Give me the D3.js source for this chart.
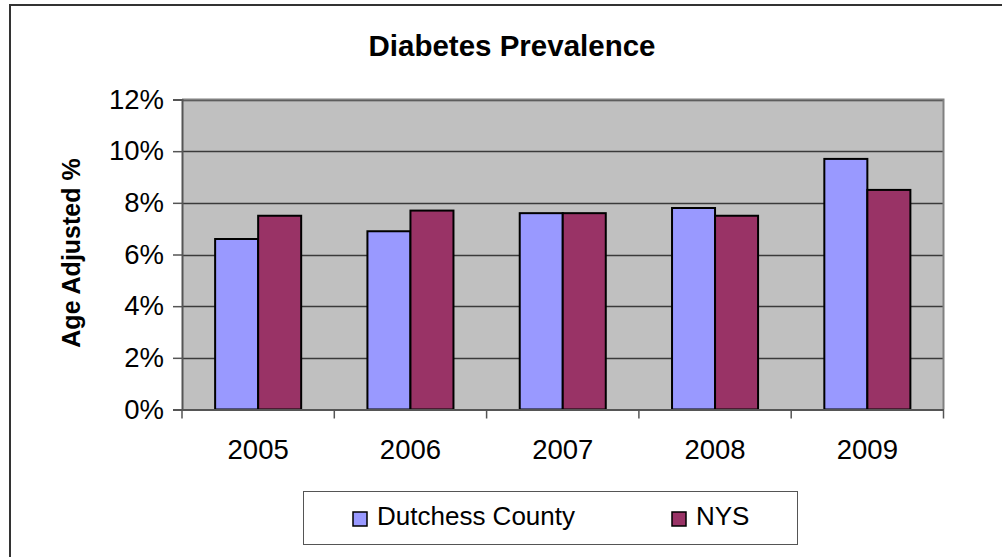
<!DOCTYPE html>
<html>
<head>
<meta charset="utf-8">
<script src="https://cdn.jsdelivr.net/npm/d3@7"></script>
<style>
  html, body { margin: 0; padding: 0; background: #fff; }
  svg { display: block; font-family: "Liberation Sans", Arial, sans-serif; }
</style>
</head>
<body>
<svg id="chart" width="1002" height="557"></svg>
<script>
// Diabetes prevalence, age adjusted (%)
const years = ["2005", "2006", "2007", "2008", "2009"];
const seriesNames = ["Dutchess County", "NYS"];
const dutchess = [6.6, 6.9, 7.6, 7.8, 9.7];
const nys = [7.5, 7.7, 7.6, 7.5, 8.5];
const yTicks = [0, 2, 4, 6, 8, 10, 12];
const colors = ["#9999FF", "#993366"];

const svg = d3.select("#chart");

// outer chart frame
svg.append("rect")
  .attr("x", 10).attr("y", 5)
  .attr("width", 1010).attr("height", 570)
  .attr("fill", "#fff").attr("stroke", "#333").attr("stroke-width", 2);

const plot = { left: 182, right: 943.5, top: 99.5, bottom: 409.5 };

const x0 = d3.scaleBand().domain(years).range([plot.left, plot.right]).padding(0);
const x1 = d3.scaleBand().domain(seriesNames).range([0, x0.bandwidth()])
  .paddingInner(0).paddingOuter(0.77);
const y = d3.scaleLinear().domain([0, 12]).range([plot.bottom, plot.top]);

// plot background
svg.append("rect")
  .attr("x", plot.left).attr("y", plot.top)
  .attr("width", plot.right - plot.left).attr("height", plot.bottom - plot.top)
  .attr("fill", "#C0C0C0");

// horizontal gridlines
svg.append("g").selectAll("line")
  .data(yTicks.filter(t => t > 0))
  .join("line")
  .attr("x1", plot.left).attr("x2", plot.right)
  .attr("y1", d => Math.round(y(d)) + 0.5).attr("y2", d => Math.round(y(d)) + 0.5)
  .attr("stroke", "#3a3a3a").attr("stroke-width", 1.5);

// plot frame (top / right)
svg.append("path")
  .attr("d", `M${plot.left},${plot.top}H${plot.right}V${plot.bottom}`)
  .attr("fill", "none").attr("stroke", "#808080").attr("stroke-width", 2);

// bars
const rows = years.map((yr, i) => ({ year: yr, values: [dutchess[i], nys[i]] }));
const groups = svg.append("g").selectAll("g")
  .data(rows).join("g")
  .attr("transform", d => `translate(${x0(d.year)},0)`);
groups.selectAll("rect")
  .data(d => d.values.map((v, j) => ({ name: seriesNames[j], value: v, j })))
  .join("rect")
  .attr("x", d => x1(d.name))
  .attr("width", x1.bandwidth())
  .attr("y", d => y(d.value))
  .attr("height", d => y(0) - y(d.value))
  .attr("fill", d => colors[d.j])
  .attr("stroke", "#000").attr("stroke-width", 2);

// y axis
const yAxis = svg.append("g")
  .attr("transform", `translate(${plot.left},0)`)
  .call(d3.axisLeft(y).tickValues(yTicks).tickFormat(d => d + "%").tickSize(9).tickPadding(9));
yAxis.select(".domain").attr("stroke", "#555").attr("stroke-width", 2);
yAxis.selectAll(".tick line").attr("stroke", "#555").attr("stroke-width", 1.5);
yAxis.selectAll(".tick text")
  .attr("font-size", 27.5).attr("fill", "#000")
  .attr("font-family", "Liberation Sans, Arial, sans-serif");

// x axis with ticks at category boundaries
const xAxis = svg.append("g")
  .attr("transform", `translate(0,${plot.bottom})`)
  .call(d3.axisBottom(x0).tickSize(0).tickPadding(30));
xAxis.select(".domain").attr("stroke", "#555").attr("stroke-width", 2);
xAxis.selectAll(".tick text")
  .attr("font-size", 27.5).attr("fill", "#000")
  .attr("font-family", "Liberation Sans, Arial, sans-serif");
const boundaries = years.map(d => x0(d)).concat([x0(years[years.length - 1]) + x0.bandwidth()]);
xAxis.append("g").selectAll("line")
  .data(boundaries).join("line")
  .attr("x1", d => d).attr("x2", d => d)
  .attr("y1", 0).attr("y2", 9)
  .attr("stroke", "#555").attr("stroke-width", 1.5);

// title
svg.append("text")
  .attr("x", 512).attr("y", 56)
  .attr("text-anchor", "middle")
  .attr("font-size", 29.5).attr("font-weight", "bold")
  .text("Diabetes Prevalence");

// y axis title
svg.append("text")
  .attr("transform", "translate(80,253) rotate(-90)")
  .attr("text-anchor", "middle")
  .attr("font-size", 25).attr("font-weight", "bold")
  .text("Age Adjusted %");

// legend
const legend = svg.append("g");
legend.append("rect")
  .attr("x", 303.5).attr("y", 491.5).attr("width", 494).attr("height", 53)
  .attr("fill", "#fff").attr("stroke", "#555").attr("stroke-width", 1);
const legendX = [353, 672];
const items = legend.selectAll("g.item")
  .data(seriesNames).join("g").attr("class", "item")
  .attr("transform", (d, i) => `translate(${legendX[i]},0)`);
items.append("rect")
  .attr("x", 0).attr("y", 512).attr("width", 14).attr("height", 14)
  .attr("fill", (d, i) => colors[i]).attr("stroke", "#000").attr("stroke-width", 1.5);
items.append("text")
  .attr("x", 24).attr("y", 525)
  .attr("font-size", 26)
  .text(d => d);
</script>
</body>
</html>
